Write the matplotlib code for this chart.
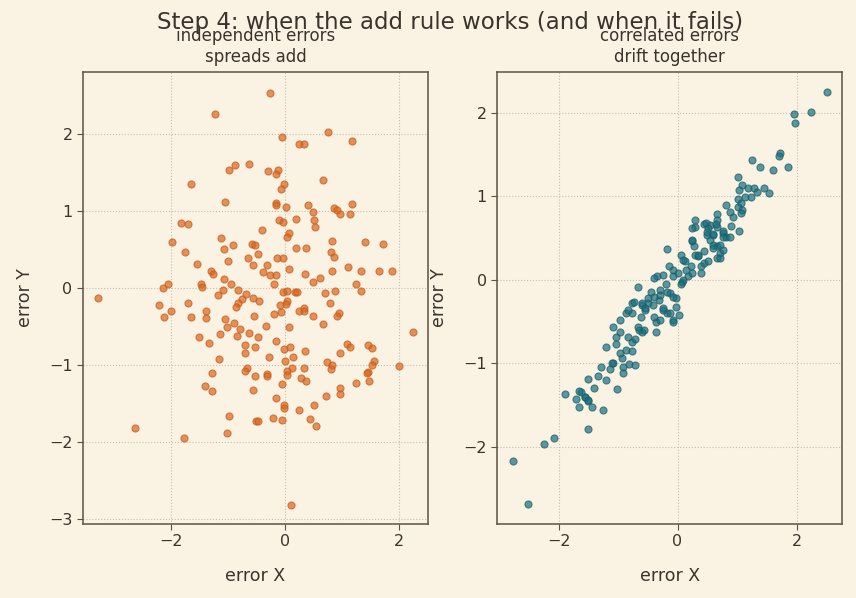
import matplotlib.pyplot as plt
import numpy as np

# ---- data ----
indep_x = [-3.26, -2.62, -1.76, -1.22, -0.26, -0.98, -0.87, -0.63, -1.64, -1.05,
           -1.81, -1.69, -0.05, 0.75, 1.17, 0.24, 0.33, -0.30, -0.12, -0.16,
           0.66, -0.02, -0.07, -0.16, -0.15, 0.02, 0.40, 0.49, 0.86, 0.91,
           0.96, 1.13, 1.17, -0.10, -0.03, 0.19, 0.51, -1.97, -1.12, -0.91,
           -1.06, -0.58, -0.52, -1.75, -1.54, -0.99, -0.65, -0.56, -1.29, -1.26,
           -1.06, -0.94, -1.47, -1.45, -2.04, -2.13, -1.08, -1.17, -0.82, -0.68,
           -0.56, -0.75, -0.82, -0.86, -2.20, -2.00, -2.11, -1.69, -1.64, -1.38,
           -1.38, -0.54, -1.05, -0.89, -1.01, -0.79, -0.63, -0.84, -1.13, -1.50,
           -1.33, -0.70, -0.52, -0.70, -1.15, -0.66, -0.70, -1.27, -0.40, 0.52,
           0.07, 0.03, 0.82, 1.40, 1.71, 0.19, 0.37, -0.47, 0.80, 0.85,
           -0.14, -0.03, -0.31, 0.07, 1.10, -0.38, -0.26, -0.16, 0.35, 0.82,
           1.33, 1.64, 1.87, 0.61, 0.49, -0.19, 1.24, 1.33, -0.03, 0.03,
           0.17, 0.21, 0.70, 0.87, -0.45, 0.03, 0.02, 0.79, -0.09, -0.07,
           -0.19, 0.24, 0.33, 0.33, 0.49, 0.94, 0.91, 0.66, -0.33, 0.07,
           2.23, -0.47, -0.16, -0.02, 0.09, 0.35, 1.08, 1.13, 1.45, 1.52,
           0.96, -0.28, 0.00, 0.14, 1.55, 1.52, 0.73, 0.82, 0.80, 2.00,
           0.12, 0.33, 0.03, 1.45, -0.31, -1.40, -1.27, -0.52, -0.56, -0.98,
           -1.01, -0.51, -0.31, 0.03, 0.28, 0.37, 1.43, 1.47, -0.05, 1.24,
           0.96, 0.96, 0.72, -0.16, -0.02, -0.02, 0.24, 0.51, -0.21, -0.05,
           -0.47, 0.44, 0.54, 0.10]
indep_y = [-0.13, -1.82, -1.94, 2.26, 2.53, 1.53, 1.60, 1.61, 1.35, 1.12,
           0.84, 0.83, 1.96, 2.03, 1.91, 1.87, 1.87, 1.52, 1.53, 1.48,
           1.40, 1.35, 1.29, 1.10, 1.08, 1.06, 1.08, 0.99, 1.04, 1.01,
           0.96, 0.96, 1.09, 0.88, 0.86, 0.90, 0.88, 0.60, 0.65, 0.56,
           0.51, 0.58, 0.56, 0.47, 0.32, 0.35, 0.39, 0.30, 0.22, 0.18,
           0.12, 0.06, 0.06, 0.01, 0.06, 0.00, -0.03, -0.09, -0.03, -0.08,
           -0.13, -0.14, -0.19, -0.24, -0.22, -0.30, -0.38, -0.19, -0.38, -0.29,
           -0.39, -0.36, -0.40, -0.45, -0.51, -0.53, -0.58, -0.62, -0.60, -0.64,
           -0.71, -0.74, -0.77, -0.84, -0.92, -1.04, -1.08, -1.10, 0.75, 0.79,
           0.71, 0.66, 0.61, 0.60, 0.58, 0.52, 0.52, 0.44, 0.47, 0.40,
           0.39, 0.39, 0.30, 0.25, 0.27, 0.21, 0.17, 0.17, 0.19, 0.22,
           0.22, 0.22, 0.22, 0.13, 0.08, 0.05, 0.05, -0.04, -0.05, -0.04,
           -0.05, -0.05, -0.06, -0.04, -0.17, -0.17, -0.21, -0.19, -0.22, -0.31,
           -0.34, -0.29, -0.26, -0.30, -0.36, -0.32, -0.36, -0.47, -0.49, -0.51,
           -0.57, -0.64, -0.68, -0.79, -0.77, -0.82, -0.73, -0.77, -0.74, -0.78,
           -0.84, -0.90, -0.94, -0.90, -0.94, -1.00, -0.96, -1.00, -1.05, -1.01,
           -1.04, -1.03, -1.08, -1.09, -1.12, -1.27, -1.34, -1.14, -1.32, -1.66,
           -1.88, -1.73, -1.14, -1.13, -1.16, -1.21, -1.10, -1.21, -1.25, -1.23,
           -1.29, -1.38, -1.40, -1.43, -1.52, -1.55, -1.58, -1.52, -1.68, -1.71,
           -1.73, -1.70, -1.79, -2.81]

corr_x = [-2.76, -2.52, -2.24, -2.07, -1.51, -1.90, -1.66, -1.70, -1.63, -1.56,
          -1.51, -1.43, -1.26, -1.51, -1.34, -1.65, -1.55, -1.50, -1.01, -1.29,
          -1.13, -1.08, -0.94, -0.91, -0.91, -0.82, -0.71, -0.96, -0.87, -0.77,
          -1.21, -1.03, -1.03, -0.97, -1.08, -0.97, -0.87, -0.76, -0.76, -0.84,
          -0.76, -0.71, -0.64, -0.59, -0.62, -0.59, -0.54, -0.49, -0.37, -0.37,
          -0.40, -0.40, -0.32, -0.24, -0.18, -0.07, -0.12, -0.03, 0.02, -0.17,
          0.29, 0.44, 0.55, 0.67, 0.76, 0.81, 0.25, 0.27, 0.50, 0.59,
          0.67, 0.72, 0.05, 0.13, 0.22, 0.34, 0.39, 0.44, 0.52, 0.67,
          -0.15, -0.07, 0.00, -0.08, -0.34, -0.40, -0.25, -0.66, 0.08, 0.17,
          0.25, 0.39, -0.29, -0.17, -0.08, -0.42, -0.74, -0.59, -0.54, -0.84,
          -0.24, -0.12, -0.03, -0.29, -0.67, -0.57, -0.08, 1.26, 1.38, 1.60,
          1.01, 1.09, 1.03, 1.18, 1.28, 1.34, 1.46, 1.53, 1.14, 1.23,
          1.01, 1.06, 1.01, 1.09, 0.89, 0.94, 1.06, 0.81, 0.67, 0.66,
          0.64, 0.29, 0.25, 0.47, 0.52, 0.49, 0.59, 0.55, 0.77, 0.77,
          0.89, 1.03, 0.25, 0.72, 0.76, 0.59, 0.44, 0.72, 0.10, 2.52,
          2.24, 1.95, 1.98, 1.73, 1.70, 1.85, -0.50, 0.10, -0.20, -1.20,
          -1.40, 0.30, 0.60, 0.90, -0.45, 0.15, -1.10, -0.30, 0.35, 0.05]
corr_y = [-2.17, -2.68, -1.96, -1.89, -1.78, -1.37, -1.52, -1.43, -1.34, -1.40,
          -1.45, -1.52, -1.56, -1.19, -1.15, -1.33, -1.40, -1.44, -1.31, -1.04,
          -1.07, -0.99, -0.93, -1.04, -1.11, -1.01, -1.02, -0.87, -0.84, -0.85,
          -0.80, -0.77, -0.69, -0.63, -0.56, -0.48, -0.40, -0.40, -0.28, -0.69,
          -0.74, -0.71, -0.60, -0.63, -0.44, -0.30, -0.36, -0.28, -0.51, -0.63,
          -0.44, -0.20, -0.24, -0.36, -0.40, -0.48, -0.16, -0.22, -0.42, 0.37,
          0.63, 0.67, 0.66, 0.63, 0.56, 0.51, 0.46, 0.40, 0.54, 0.42,
          0.40, 0.32, 0.30, 0.22, 0.16, 0.28, 0.16, 0.20, 0.22, 0.26,
          0.16, 0.12, 0.08, 0.04, 0.04, 0.02, 0.06, -0.08, -0.02, 0.04,
          0.08, 0.08, -0.12, -0.14, -0.20, -0.30, -0.26, -0.28, -0.34, -0.36,
          -0.34, -0.40, -0.32, -0.48, -0.57, -0.60, -0.50, 1.43, 1.35, 1.32,
          1.23, 1.13, 1.08, 1.10, 1.10, 1.05, 1.10, 1.04, 0.99, 0.99,
          0.97, 0.92, 0.87, 0.84, 0.81, 0.75, 0.80, 0.89, 0.79, 0.72,
          0.67, 0.72, 0.62, 0.68, 0.62, 0.57, 0.54, 0.48, 0.59, 0.51,
          0.51, 0.59, 0.48, 0.42, 0.36, 0.38, 0.35, 0.26, 0.24, 2.25,
          2.01, 1.98, 1.88, 1.52, 1.48, 1.35, -0.22, 0.00, -0.05, -1.20,
          -1.30, 0.30, 0.55, 0.65, -0.15, 0.12, -1.00, -0.18, 0.30, -0.05]

bg = '#faf2e3'
ink = '#3b342c'

plt.rcParams['font.family'] = 'DejaVu Sans'
fig = plt.figure(figsize=(8.56, 5.98), dpi=100, facecolor=bg)
ax1 = fig.add_axes([0.097, 0.124, 0.403, 0.756])
ax2 = fig.add_axes([0.581, 0.124, 0.403, 0.756])

for ax in (ax1, ax2):
    ax.set_facecolor(bg)
    ax.grid(True, linestyle=':', color='#c8bfae', linewidth=0.8)
    ax.set_axisbelow(True)
    for s in ax.spines.values():
        s.set_color('#5b5247')
        s.set_linewidth(1.1)
    ax.tick_params(colors=ink, labelsize=11.5, length=4, color='#5b5247')
    ax.set_xlabel('error X', fontsize=12.5, color=ink, labelpad=13)
    ax.set_ylabel('error Y', fontsize=12.5, color=ink, labelpad=11)

ax1.scatter(indep_x, indep_y, s=26, color='#d9661f', alpha=0.7,
            edgecolors='#c85a14', linewidths=0.8)
ax1.set_xlim(-3.53, 2.50)
ax1.set_ylim(-3.06, 2.81)
ax1.set_xticks([-2, 0, 2])
ax1.set_title('independent errors\nspreads add', fontsize=12, color=ink, pad=7)

ax2.scatter(corr_x, corr_y, s=26, color='#1b6e7c', alpha=0.7,
            edgecolors='#155e6a', linewidths=0.8)
ax2.set_xlim(-3.03, 2.77)
ax2.set_ylim(-2.92, 2.49)
ax2.set_xticks([-2, 0, 2])
ax2.set_yticks([-2, -1, 0, 1, 2])
ax2.set_title('correlated errors\ndrift together', fontsize=12, color=ink, pad=7)

fig.suptitle('Step 4: when the add rule works (and when it fails)',
             fontsize=16.5, color=ink, x=0.526, y=0.963, va='center')

fig.savefig('out.png', dpi=100, facecolor=bg)
